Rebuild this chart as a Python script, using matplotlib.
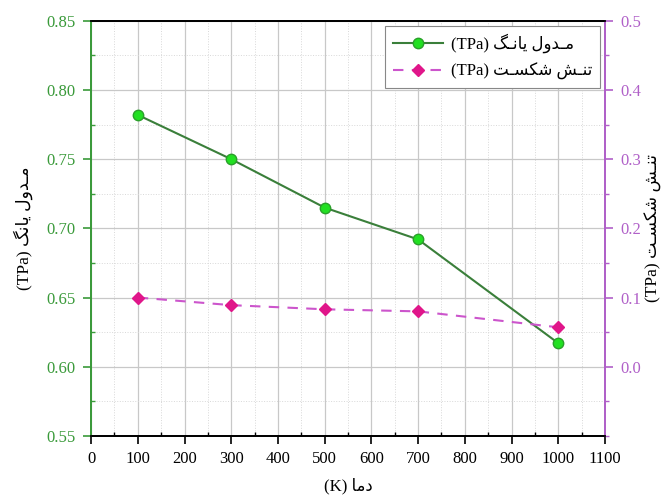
import matplotlib
matplotlib.use("Agg")
import matplotlib.pyplot as plt
from matplotlib.ticker import MultipleLocator, FixedLocator

# Data
temps = [100, 300, 500, 700, 1000]
young = [0.782, 0.750, 0.715, 0.692, 0.617]
fracture = [0.100, 0.089, 0.083, 0.080, 0.057]
x_ticks = list(range(0, 1101, 100))
left_ticks = [0.55, 0.60, 0.65, 0.70, 0.75, 0.80, 0.85]
right_ticks = [0.0, 0.1, 0.2, 0.3, 0.4, 0.5]

# Persian labels in visual (left-to-right) order with presentation forms
young_fa = "\uFB93\uFEE7\uFE8E\uFBFE \uFEDD\uFEED\uFEAA\u0640\uFEE3"          # مـدول یانگ
young_fa_leg = "\uFB93\u0640\uFEE7\uFE8E\uFBFE \uFEDD\uFEED\uFEAA\u0640\uFEE3"
frac_fa = "\uFE96\u0640\uFEB4\uFB91\uFEB7 \uFEB6\u0640\uFEE8\uFE97"          # تنـش شکسـت
temp_fa = "\uFE8E\uFEE3\uFEA9"                                             # دما

FAM = ['Liberation Serif', 'DejaVu Sans']
plt.rcParams['font.family'] = FAM

green_axis = '#3a9a3a'
purple_axis = '#b060c8'
line_green = '#3a7f3a'
marker_green = '#22e022'
pink = '#e0168a'
dash_color = '#cc55cc'

fig = plt.figure(figsize=(6.7, 4.97), dpi=100)
ax = fig.add_axes([0.136, 0.123, 0.767, 0.835])
ax2 = ax.twinx()

l1, = ax.plot(temps, young, '-', color=line_green, lw=1.5, marker='o', ms=7.5,
              mfc=marker_green, mec='#2aa02a', label='(TPa) ' + young_fa_leg, zorder=5)
l2, = ax2.plot(temps, fracture, '--', color=dash_color, lw=1.5, dashes=(5, 4), marker='D', ms=6.5,
               mfc=pink, mec=pink, label='(TPa) ' + frac_fa, zorder=5)

ax.set_xlim(0, 1100)
ax.set_ylim(0.55, 0.85)
ax2.set_ylim(-0.1, 0.5)

ax.xaxis.set_major_locator(FixedLocator(x_ticks))
ax.xaxis.set_minor_locator(MultipleLocator(50))
ax.yaxis.set_major_locator(FixedLocator(left_ticks))
ax.yaxis.set_minor_locator(MultipleLocator(0.025))
ax2.yaxis.set_major_locator(FixedLocator(right_ticks))
ax2.yaxis.set_minor_locator(MultipleLocator(0.05))

ax.set_xticklabels([str(t) for t in x_ticks])
ax.set_yticklabels([f"{t:.2f}" for t in left_ticks])
ax2.set_yticklabels([f"{t:.1f}" for t in right_ticks])

ax.grid(which='major', color='#c8c8c8', lw=0.9)
ax.grid(which='minor', color='#d8d8d8', lw=0.7, ls=':')
ax.set_axisbelow(True)

ax.tick_params(axis='x', which='major', direction='out', length=6, width=1.2,
               labelsize=12, colors='black', pad=5)
ax.tick_params(axis='x', which='minor', direction='in', length=3, width=1.0)
ax.tick_params(axis='y', which='major', direction='out', length=6, width=1.2,
               colors=green_axis, labelsize=12, pad=5)
ax.tick_params(axis='y', which='minor', direction='in', length=3, width=1.0, colors=green_axis)
ax2.tick_params(axis='y', which='major', direction='out', length=6, width=1.2,
                colors=purple_axis, labelsize=12, pad=5)
ax2.tick_params(axis='y', which='minor', direction='out', length=3, width=1.0, colors=purple_axis)

for a in (ax, ax2):
    a.spines['left'].set_color(green_axis)
    a.spines['right'].set_color(purple_axis)
    a.spines['top'].set_color('black')
    a.spines['bottom'].set_color('black')
    for s in a.spines.values():
        s.set_linewidth(1.3)

ax.set_xlabel('(K) ' + temp_fa, fontsize=12, labelpad=8)
ax.set_ylabel('(TPa) ' + young_fa, fontsize=12.5, va='center')
ax2.set_ylabel('(TPa) ' + frac_fa, fontsize=12.5, rotation=90, va='center')
ax.yaxis.set_label_coords(-0.132, 0.5)
ax2.yaxis.set_label_coords(1.095, 0.5)

leg = ax.legend(handles=[l1, l2], loc='upper right', fontsize=12, frameon=True,
                fancybox=False, edgecolor='#888888', framealpha=1,
                borderaxespad=0.3, handlelength=3.0, labelspacing=0.6,
                borderpad=0.45, handletextpad=0.5)
leg.get_frame().set_linewidth(0.8)

fig.savefig('out.png', dpi=100)
